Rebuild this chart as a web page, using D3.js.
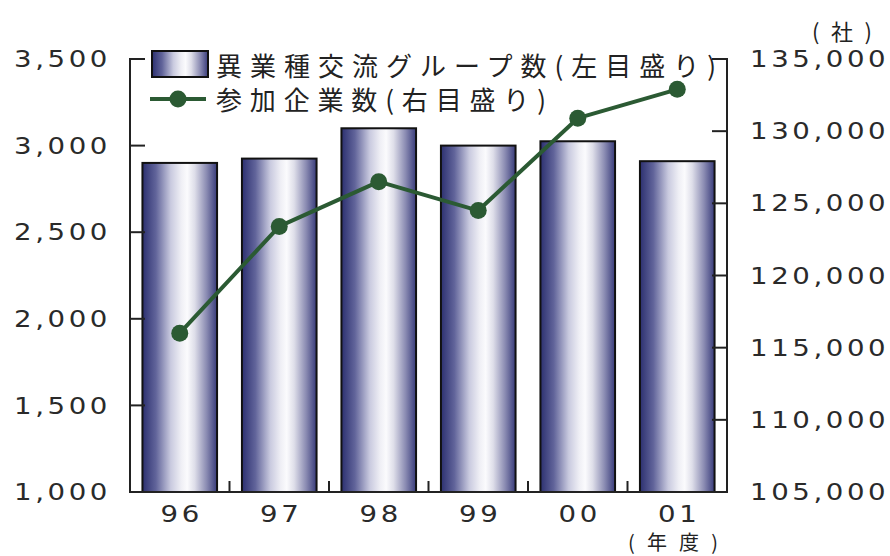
<!DOCTYPE html>
<html>
<head>
<meta charset="utf-8">
<script src="https://cdn.jsdelivr.net/npm/d3@7"></script>
<style>
  html, body { margin: 0; padding: 0; background: #fff; }
  svg { display: block; }
  .num { font-family: "DejaVu Sans", sans-serif; font-size: 23px; letter-spacing: 3px; fill: #2a2a2a; }
  .jp { font-family: "Noto Sans CJK JP", sans-serif; fill: #222; }
</style>
</head>
<body>
<svg id="chart" width="890" height="556"></svg>
<script>
// Fiscal years
const years = ["96", "97", "98", "99", "00", "01"];
// 異業種交流グループ数 (left axis)
const groupCounts = [2900, 2925, 3100, 3000, 3025, 2910];
// 参加企業数 (right axis)
const companyCounts = [116000, 123400, 126500, 124500, 130900, 132900];
// Axis ticks
const leftTicks = [1000, 1500, 2000, 2500, 3000, 3500];
const rightTicks = [105000, 110000, 115000, 120000, 125000, 130000, 135000];

const barLabel = "異業種交流グループ数(左目盛り)";
const lineLabel = "参加企業数(右目盛り)";

const svg = d3.select("#chart");
const plotL = 130, plotR = 727, plotT = 59, plotB = 492;

const x = d3.scaleBand().domain(years).range([plotL, plotR])
  .paddingInner(0.25).paddingOuter(0.125);
const yL = d3.scaleLinear().domain([1000, 3500]).range([plotB, plotT]);
const yR = d3.scaleLinear().domain([105000, 135000]).range([plotB, plotT]);
const fmt = d3.format(",");
const widen = 1.2; // wide numeral face

// Horizontal metallic gradient for the bars
const defs = svg.append("defs");
const grad = defs.append("linearGradient").attr("id", "barGrad")
  .attr("x1", "0%").attr("x2", "100%").attr("y1", "0%").attr("y2", "0%");
[[0, "#2c3070"], [0.18, "#61649a"], [0.38, "#c9cadf"], [0.52, "#efeff5"],
 [0.6, "#fbfbfd"], [0.7, "#dedee9"], [0.86, "#8a8bb2"], [1, "#383b7a"]]
  .forEach(([o, c]) => grad.append("stop").attr("offset", o).attr("stop-color", c));

// Bars
svg.append("g").selectAll("rect").data(years).join("rect")
  .attr("x", d => x(d))
  .attr("y", (d, i) => yL(groupCounts[i]))
  .attr("width", x.bandwidth())
  .attr("height", (d, i) => plotB - yL(groupCounts[i]))
  .attr("fill", "url(#barGrad)")
  .attr("stroke", "#111").attr("stroke-width", 2);

// Axes frame
const axisColor = "#222";
const g = svg.append("g").attr("stroke", axisColor).attr("stroke-width", 2).attr("fill", "none");
g.append("line").attr("x1", plotL).attr("x2", plotL).attr("y1", plotT - 1).attr("y2", plotB + 1);
g.append("line").attr("x1", plotR).attr("x2", plotR).attr("y1", plotT - 1).attr("y2", plotB + 1);
g.append("line").attr("x1", plotL - 1).attr("x2", plotR + 1).attr("y1", plotB).attr("y2", plotB);

// Left ticks (inward)
g.selectAll(".lt").data(leftTicks).join("line")
  .attr("x1", plotL).attr("x2", plotL + 15)
  .attr("y1", d => yL(d)).attr("y2", d => yL(d));
// Right ticks (inward)
g.selectAll(".rt").data(rightTicks).join("line")
  .attr("x1", plotR - 15).attr("x2", plotR)
  .attr("y1", d => yR(d)).attr("y2", d => yR(d));
// Category separator ticks on the baseline
const seps = years.slice(1).map(d => x(d) - x.step() * x.paddingInner() / 2);
g.selectAll(".bt").data(seps).join("line")
  .attr("x1", d => d).attr("x2", d => d)
  .attr("y1", plotB).attr("y2", plotB - 11);

// Left tick labels
svg.append("g").selectAll("text").data(leftTicks).join("text")
  .attr("class", "num")
  .attr("transform", d => `translate(111,${yL(d)}) scale(${widen},1)`)
  .attr("text-anchor", "end").attr("dominant-baseline", "central")
  .text(d => fmt(d));

// Right tick labels
svg.append("g").selectAll("text").data(rightTicks).join("text")
  .attr("class", "num")
  .attr("transform", d => `translate(750,${yR(d)}) scale(${widen},1)`)
  .attr("dominant-baseline", "central")
  .text(d => fmt(d));

// Category labels
svg.append("g").selectAll("text").data(years).join("text")
  .attr("class", "num")
  .attr("transform", d => `translate(${x(d) + x.bandwidth() / 2 + 2},514) scale(${widen},1)`)
  .attr("text-anchor", "middle").attr("dominant-baseline", "central")
  .text(d => d);

// Unit labels
svg.append("text").attr("class", "jp").attr("font-size", 22)
  .attr("x", 812).attr("y", 30)
  .attr("textLength", 60).attr("lengthAdjust", "spacing")
  .attr("dominant-baseline", "central").text("(社)");
svg.append("text").attr("class", "jp").attr("font-size", 20)
  .attr("x", 628).attr("y", 541)
  .attr("textLength", 90).attr("lengthAdjust", "spacing")
  .attr("dominant-baseline", "central").text("(年度)");

// Participating companies line
const green = "#2b5a33";
const line = d3.line().x((d, i) => x(years[i]) + x.bandwidth() / 2).y(d => yR(d));
svg.append("path").datum(companyCounts)
  .attr("d", line).attr("fill", "none")
  .attr("stroke", green).attr("stroke-width", 4).attr("stroke-linejoin", "round");
svg.append("g").selectAll("circle").data(companyCounts).join("circle")
  .attr("cx", (d, i) => x(years[i]) + x.bandwidth() / 2)
  .attr("cy", d => yR(d))
  .attr("r", 8.5).attr("fill", green);

// Legend
const lg = svg.append("g");
lg.append("rect").attr("x", 152).attr("y", 51).attr("width", 56).attr("height", 26)
  .attr("fill", "url(#barGrad)").attr("stroke", "#111").attr("stroke-width", 2);
lg.append("text").attr("class", "jp").attr("font-size", 26)
  .attr("x", 216).attr("y", 64).attr("dominant-baseline", "central")
  .attr("textLength", 500).attr("lengthAdjust", "spacing")
  .text(barLabel);
lg.append("line").attr("x1", 150).attr("x2", 206).attr("y1", 99).attr("y2", 99)
  .attr("stroke", green).attr("stroke-width", 4);
lg.append("circle").attr("cx", 178).attr("cy", 99).attr("r", 8.5).attr("fill", green);
lg.append("text").attr("class", "jp").attr("font-size", 26)
  .attr("x", 216).attr("y", 98).attr("dominant-baseline", "central")
  .attr("textLength", 330).attr("lengthAdjust", "spacing")
  .text(lineLabel);
</script>
</body>
</html>
